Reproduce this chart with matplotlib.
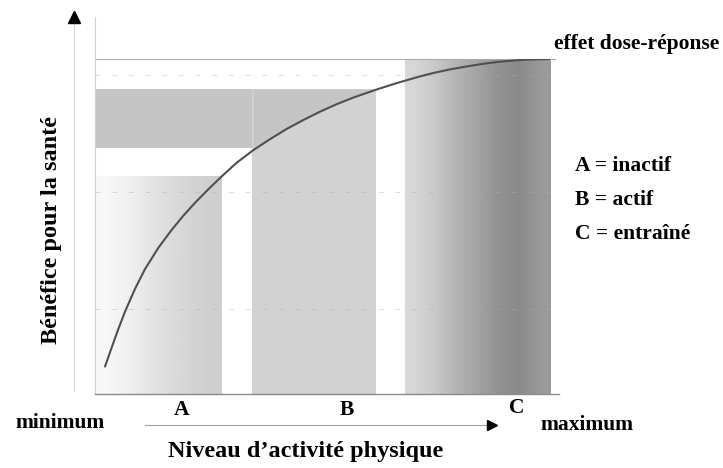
import numpy as np
import matplotlib.pyplot as plt

# Dose-response curve (x: activity 0-100, y: benefit 0-100)
curve_x = [2.2, 3.7, 5.1, 6.6, 8.8, 11.0, 13.9, 16.8, 19.4, 22.0, 24.9, 27.8,
           31.1, 34.8, 38.5, 42.1, 45.8, 49.5, 53.1, 56.8, 61.9, 66.3, 71.4,
           74.3, 78.0, 81.8, 85.5, 89.0, 94.5, 100.0]
curve_y = [8.2, 14.0, 19.3, 24.6, 31.4, 37.3, 43.6, 48.9, 53.2, 57.1, 61.1, 64.9,
           69.0, 72.8, 76.1, 79.1, 81.8, 84.3, 86.5, 88.5, 90.9, 92.8, 94.8,
           95.8, 96.9, 97.8, 98.6, 99.2, 99.8, 100.0]

# zones A / B / C  (x range, top)
zone_a = (0.0, 27.9, 64.8)
zone_b = (34.5, 61.8, 91.0)
band_b = (0.0, 34.5, 73.4, 91.0)   # horizontal strip of zone B
zone_c = (68.1, 100.0, 100.0)

# grey levels of the shading, left to right
grad_a = [0.97, 0.93, 0.88, 0.84, 0.81]
grad_c = [0.84, 0.78, 0.70, 0.64, 0.57, 0.54, 0.60]
grid_y = [25.4, 60.3, 95.2]

zone_labels = ["A", "B", "C"]
legend_lines = ["A = inactif", "B = actif", "C = entraîné"]

plt.rcParams['font.family'] = ['Liberation Serif', 'DejaVu Serif']

fig = plt.figure(figsize=(7.23, 4.68), dpi=100)
ax = fig.add_axes([95 / 723, 74 / 468, 455 / 723, 335 / 468])
ax.set_xlim(0, 100)
ax.set_ylim(0, 100)
ax.axis('off')


def gradient(x0, x1, top, levels):
    img = np.array(levels)[None, :]
    ax.imshow(img, cmap='gray', vmin=0, vmax=1, aspect='auto',
              interpolation='bilinear', extent=(x0, x1, 0, top), zorder=1)


gradient(zone_a[0], zone_a[1], zone_a[2], grad_a)
ax.fill_between([zone_b[0], zone_b[1]], 0, zone_b[2], color='#d2d2d2', lw=0, zorder=1)
ax.fill_between([band_b[0], band_b[1]], band_b[2], band_b[3], color='#c5c5c5', lw=0, zorder=1)
cx = np.array(curve_x)
cy = np.array(curve_y)
m = (cx >= zone_b[0]) & (cx <= zone_b[1] + 0.3)
ax.fill_between(cx[m], cy[m], zone_b[2], color='#c5c5c5', lw=0, zorder=1)
gradient(zone_c[0], zone_c[1], zone_c[2], grad_c)

for gy in grid_y:
    ax.plot([0, 100], [gy, gy], color='#b0b0b0', lw=0.6, ls=(0, (6, 14)),
            alpha=0.5, zorder=2)

# frame lines
ax.plot([0, 101], [100, 100], color='#a8a8a8', lw=0.8, clip_on=False, zorder=3)
ax.plot([0, 0], [0, 112.5], color='#d0d0d0', lw=0.8, clip_on=False, zorder=3)
ax.plot([0, 102], [0, 0], color='#8a8a8a', lw=1.0, clip_on=False, zorder=3)

ax.plot(cx, cy, color='#505050', lw=1.5, solid_capstyle='round',
        solid_joinstyle='round', zorder=4)

# axis arrows
ax.plot([-4.6, -4.6], [1.0, 111], color='#d8d8d8', lw=0.8, clip_on=False)
ax.plot([-4.6], [112.5], marker='^', color='black', ms=8, clip_on=False)
ax.plot([11.0, 86.5], [-9.3, -9.3], color='#a0a0a0', lw=0.8, clip_on=False)
ax.plot([87.2], [-9.3], marker='>', color='black', ms=7, clip_on=False)

fs = 15.5
bold = 'semibold'


def ftext(x, y, s, **kw):
    fig.text(x / 723, 1 - y / 468, s, fontsize=kw.pop('size', fs),
             fontweight=bold, va='center', **kw)


ftext(52, 230, "Bénéfice pour la santé", size=17.5, rotation=90, ha='center')
ftext(306, 452, "Niveau d\u2019activité physique", size=17.5, ha='center')
ftext(60, 423, "minimum", ha='center')
ftext(587, 425, "maximum", ha='center')
ftext(637, 44, "effet dose-réponse", ha='center')
for lab, x, y in zip(zone_labels, [182, 347, 517], [410, 410, 408]):
    ftext(x, y, lab, ha='center')
for i, s in enumerate(legend_lines):
    ftext(575, 166 + i * 34, s, ha='left')

fig.savefig('out.png', dpi=100)
